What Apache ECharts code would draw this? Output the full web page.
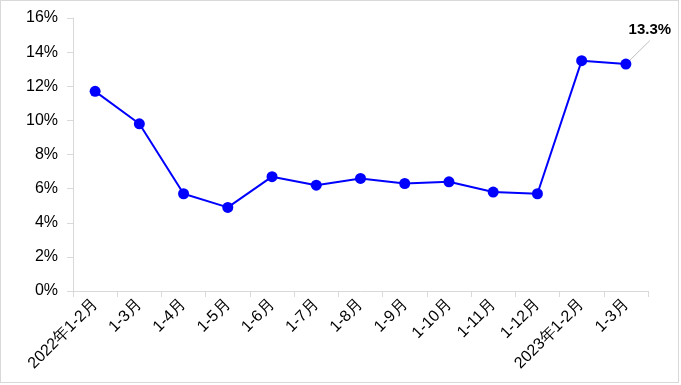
<!DOCTYPE html>
<html><head><meta charset="utf-8">
<script src="https://cdn.jsdelivr.net/npm/echarts@6/dist/echarts.min.js"></script>
<style>html,body{margin:0;padding:0;background:#fff}#c{position:absolute;left:0;top:0;width:681px;height:385px}#b{position:absolute;left:0;top:0;width:677px;height:381px;border:1px solid #d9d9d9;pointer-events:none}</style>
</head><body><div id="c"></div><div id="b"></div>
<script>
const categories = ['2022年1-2月','1-3月','1-4月','1-5月','1-6月','1-7月','1-8月','1-9月','1-10月','1-11月','1-12月','2023年1-2月','1-3月'];
const values = [11.7, 9.8, 5.7, 4.9, 6.7, 6.2, 6.6, 6.3, 6.4, 5.8, 5.7, 13.5, 13.3];
const labelIndex = 12;
const yMin = 0, yMax = 16, yStep = 2;

const chart = echarts.init(document.getElementById('c'));
const axisColor = '#d9d9d9';
const font = 'Liberation Sans, Arial, sans-serif';
chart.setOption({
  animation: false,
  grid: {left: 73, right: 33, top: 18, bottom: 94, containLabel: false},
  xAxis: {
    type: 'category', data: categories, boundaryGap: true,
    axisLine: {lineStyle: {color: axisColor, width: 1}},
    axisTick: {show: true, alignWithLabel: false, length: 6, lineStyle: {color: axisColor}},
    axisLabel: {interval: 0, rotate: 45, fontSize: 16, color: '#000', fontFamily: font, margin: 11}
  },
  yAxis: {
    type: 'value', min: yMin, max: yMax, interval: yStep,
    axisLine: {show: true, lineStyle: {color: axisColor}},
    axisTick: {show: true, length: 6, lineStyle: {color: axisColor}},
    splitLine: {show: false},
    axisLabel: {formatter: '{value}%', fontSize: 16, color: '#000', fontFamily: font, margin: 15}
  },
  series: [{
    type: 'line',
    data: values.map((v, i) => i === labelIndex ? {
      value: v,
      label: {show: true, position: 'top', formatter: p => p.value.toFixed(1) + '%', fontSize: 15, fontWeight: 'bold', color: '#000', fontFamily: font,
        padding: [18, 0, 3, 0], backgroundColor: 'rgba(255,255,255,0)'},
      labelLine: {show: true, lineStyle: {color: '#bfbfbf', width: 1}}
    } : v),
    labelLayout: {dx: 24, dy: -13},
    symbol: 'circle', symbolSize: 11,
    itemStyle: {color: '#0000ff'},
    lineStyle: {color: '#0000ff', width: 2}
  }]
});
</script></body></html>
